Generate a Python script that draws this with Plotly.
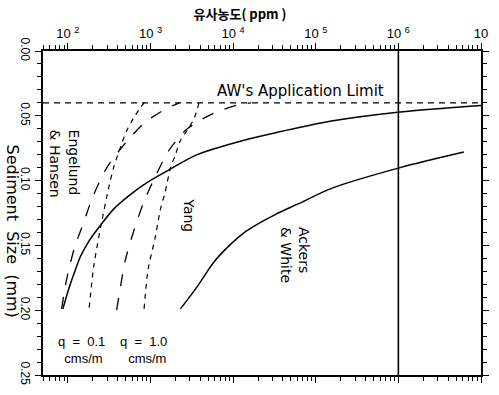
import math
import plotly.graph_objects as go

# ---- data (concentration in ppm, sediment size in mm) ----
aw_q01_conc = [87, 102, 120, 141, 171, 207, 251, 358, 540, 933, 1750, 3660, 13200, 32700, 155000, 1.05e6, 1e7]
aw_q01_size = [0.199, 0.184, 0.171, 0.159, 0.149, 0.141, 0.134, 0.122, 0.112, 0.101, 0.091, 0.080, 0.069, 0.063, 0.054, 0.047, 0.042]

aw_q10_conc = [2300, 3660, 5830, 9030, 14400, 32700, 61200, 155000, 1.05e6, 6.2e6]
aw_q10_size = [0.199, 0.182, 0.163, 0.150, 0.139, 0.126, 0.118, 0.106, 0.090, 0.078]

eh_q01_conc = [84, 96, 120, 158, 196, 296, 498, 859, 1610, 2240]
eh_q01_size = [0.199, 0.177, 0.152, 0.131, 0.114, 0.090, 0.071, 0.055, 0.044, 0.040]

eh_q10_conc = [389, 498, 619, 813, 1160, 1700, 2790, 5830, 12500, 16500]
eh_q10_size = [0.200, 0.161, 0.140, 0.118, 0.096, 0.076, 0.060, 0.048, 0.041, 0.040]

yang_q01_conc = [181, 207, 251, 313, 358, 434, 511, 619, 750, 836]
yang_q01_size = [0.198, 0.165, 0.135, 0.105, 0.090, 0.074, 0.062, 0.052, 0.044, 0.040]

yang_q10_conc = [836, 933, 1130, 1331, 1490, 1750, 2006, 2300, 2790, 3373, 3864]
yang_q10_size = [0.199, 0.169, 0.145, 0.121, 0.110, 0.090, 0.080, 0.069, 0.061, 0.052, 0.040]

aw_limit = 0.04
ref_conc = 1e6
x_min, x_max = 50, 1e7
y_min, y_max = 0.0, 0.25

x_tickvals = [1e2, 1e3, 1e4, 1e5, 1e6, 1e7]
x_ticktext = ["10 <sup>2</sup>", "10 <sup>3</sup>", "10 <sup>4</sup>", "10 <sup>5</sup>", "10 <sup>6</sup>", "10"]
y_tickvals = [0.0, 0.05, 0.10, 0.15, 0.20, 0.25]
y_ticktext = ["0.00", "0.05", "0.10", "0.15", "0.20", "0.25"]

# minor tick positions (2..9 within each decade; every 0.01 mm)
x_minor = [m * 10 ** e for e in range(1, 7) for m in range(2, 10) if x_min <= m * 10 ** e <= x_max]
y_minor = [i / 100 for i in range(0, 26) if i % 5]

FONT = "Liberation Sans, Arial, sans-serif"
WFONT = "DejaVu Sans, sans-serif"
K = "black"

fig = go.Figure()

def curve(x, y, dash, width=1.4):
    fig.add_trace(go.Scatter(x=x, y=y, mode="lines",
                             line=dict(color=K, width=width, dash=dash, shape="spline", smoothing=0.8),
                             showlegend=False, hoverinfo="skip"))

curve(aw_q01_conc, aw_q01_size, "solid", 1.5)
curve(aw_q10_conc, aw_q10_size, "solid", 1.5)
curve(eh_q01_conc, eh_q01_size, "12px,12px", 1.3)
curve(eh_q10_conc, eh_q10_size, "12px,12px", 1.3)
curve(yang_q01_conc, yang_q01_size, "5px,5px", 1.2)
curve(yang_q10_conc, yang_q10_size, "5px,5px", 1.2)

fig.add_trace(go.Scatter(x=[x_min, x_max], y=[aw_limit, aw_limit], mode="lines",
                         line=dict(color=K, width=1.3, dash="6px,5px"), showlegend=False, hoverinfo="skip"))
fig.add_trace(go.Scatter(x=[ref_conc, ref_conc], y=[y_min, y_max], mode="lines",
                         line=dict(color=K, width=1.6), showlegend=False, hoverinfo="skip"))

lx = lambda v: math.log10(v)

fig.update_layout(
    width=499, height=395,
    margin=dict(l=43, r=10, t=51, b=13),
    paper_bgcolor="white", plot_bgcolor="white", showlegend=False,
    font=dict(family=FONT, color=K, size=12),
    title=dict(text="<b>유사농도( ppm )</b>", x=240/499, xanchor="center", y=1-14/395, yanchor="middle",
               font=dict(family="Noto Sans CJK KR", size=13, color=K)),
    xaxis=dict(type="log", side="top", range=[lx(x_min), lx(x_max)], showgrid=False, zeroline=False,
               showline=True, linecolor=K, linewidth=1.5, mirror="ticks",
               ticks="outside", ticklen=6, tickwidth=1.3, tickcolor=K,
               tickmode="array", tickvals=x_tickvals, ticktext=x_ticktext,
               tickfont=dict(size=13, family=FONT),
               minor=dict(tickmode="array", tickvals=x_minor, ticks="outside", ticklen=4,
                          tickwidth=1.2, tickcolor=K, showgrid=False)),
    yaxis=dict(range=[y_max, y_min], showgrid=False, zeroline=False,
               showline=True, linecolor=K, linewidth=1.5, mirror="ticks",
               ticks="outside", ticklen=6, tickwidth=1.3, tickcolor=K,
               tickmode="array", tickvals=y_tickvals, ticktext=y_ticktext, tickangle=90,
               tickfont=dict(size=12, family=FONT),
               minor=dict(tickmode="array", tickvals=y_minor, ticks="outside", ticklen=4,
                          tickwidth=1.2, tickcolor=K, showgrid=False)),
)

ann = [
    dict(text="AW's Application Limit", x=4.81, y=0.0305, size=15, angle=0, fam=WFONT, align="center"),
    dict(text="Engelund<br>& Hansen", x=1.96, y=0.0865, size=14, angle=90, fam=WFONT, align="left"),
    dict(text="Yang", x=3.47, y=0.127, size=14, angle=90, fam=WFONT, align="left"),
    dict(text="Ackers<br>& White", x=4.751, y=0.1575, size=14, angle=90, fam=WFONT, align="left"),
    dict(text="q  =  0.1<br> cms/m", x=2.162, y=0.231, size=13, angle=0, fam=FONT, align="center"),
    dict(text="q  =  1.0<br>  cms/m", x=2.91, y=0.231, size=13, angle=0, fam=FONT, align="center"),
]
for a in ann:
    fig.add_annotation(text=a["text"], x=a["x"], y=a["y"], xref="x", yref="y", showarrow=False,
                       textangle=a["angle"], align=a["align"], xanchor="center", yanchor="middle",
                       font=dict(size=a["size"], family=a["fam"], color=K))

fig.add_annotation(text="Sediment  Size  (mm)", xref="paper", yref="paper", x=(12-43)/446, y=1-(235-51)/331,
                   textangle=90, showarrow=False, xanchor="center", yanchor="middle",
                   font=dict(size=16, family=WFONT, color=K))

fig.write_html("out.html")
